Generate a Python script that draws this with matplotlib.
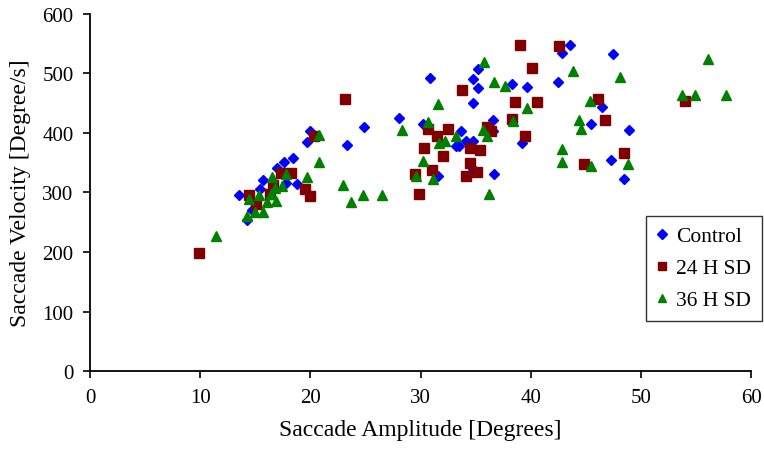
import matplotlib
matplotlib.use("Agg")
import matplotlib.pyplot as plt

# Control
ctrl_x = [13.5, 15.7, 17.8, 18.8, 15.4, 14.7, 14.2, 18.4, 19.7, 20.0, 23.3, 24.9, 28.0,
          30.2, 30.9, 33.2, 31.6, 35.2, 34.8, 38.3, 39.7, 35.2, 42.5, 43.6, 42.8, 34.8,
          36.6, 36.6, 33.7, 34.1, 34.8, 33.5, 39.2, 34.8, 36.7, 47.5, 46.5, 45.5, 48.9,
          47.3, 48.5, 17.6, 17.0]
ctrl_y = [295, 320, 315, 314, 305, 271, 253, 357, 384, 403, 379, 409, 424,
          414, 492, 377, 327, 507, 491, 481, 476, 475, 485, 548, 534, 450,
          422, 403, 403, 387, 386, 377, 383, 340, 330, 532, 443, 415, 405,
          354, 323, 351, 341]

# 24 H SD
sd24_x = [9.9, 14.4, 17.3, 18.2, 19.5, 20.0, 16.3, 15.1, 16.6, 20.3, 23.1, 30.7, 32.5,
          31.5, 30.3, 32.0, 31.0, 29.5, 29.9, 39.0, 42.6, 40.1, 33.8, 38.6, 40.6, 38.3,
          36.0, 36.4, 39.5, 34.5, 35.4, 34.5, 35.1, 34.1, 44.8, 54.0, 46.1, 46.7, 48.5]
sd24_y = [198, 295, 332, 332, 306, 294, 298, 281, 313, 395, 457, 407, 407,
          395, 374, 361, 337, 330, 297, 548, 546, 508, 471, 451, 451, 423,
          410, 403, 394, 375, 371, 350, 334, 328, 347, 454, 457, 421, 366]

# 36 H SD
sd36_x = [11.4, 14.4, 15.3, 16.4, 16.1, 16.9, 17.4, 16.8, 16.5, 17.8, 19.7, 15.0, 15.7,
          14.2, 20.8, 20.8, 31.6, 30.7, 28.3, 32.2, 31.7, 33.2, 30.2, 29.6, 31.1, 23.0,
          24.8, 26.5, 23.7, 35.8, 36.7, 37.7, 39.7, 38.4, 35.7, 36.0, 36.2, 42.8, 42.8,
          44.4, 44.6, 43.8, 56.1, 48.1, 53.7, 54.9, 57.7, 45.4, 45.5, 48.8]
sd36_y = [227, 289, 295, 298, 283, 285, 310, 308, 326, 330, 325, 267, 267,
          260, 397, 351, 449, 418, 405, 386, 383, 394, 352, 328, 322, 313,
          295, 295, 283, 519, 485, 478, 442, 420, 405, 395, 298, 372, 351,
          422, 407, 503, 523, 494, 464, 464, 464, 454, 344, 347]

plt.rcParams['font.family'] = ['Liberation Serif', 'DejaVu Serif']

fig = plt.figure(figsize=(7.64, 4.56), dpi=100)
ax = fig.add_axes([0.118, 0.184, 0.865, 0.784])

ax.plot(ctrl_x, ctrl_y, linestyle='none', marker='D', ms=5.5, color='#0000ff', label='Control')
ax.plot(sd24_x, sd24_y, linestyle='none', marker='s', ms=6.5, color='#800000', label='24 H SD')
ax.plot(sd36_x, sd36_y, linestyle='none', marker='^', ms=7.5, color='#008000', label='36 H SD')

ax.set_xlim(0, 60)
ax.set_ylim(0, 600)
ax.set_xticks(range(0, 61, 10))
ax.set_yticks(range(0, 601, 100))
ax.spines['top'].set_visible(False)
ax.spines['right'].set_visible(False)
ax.spines['left'].set_linewidth(1.3)
ax.spines['bottom'].set_linewidth(1.3)
ax.tick_params(axis='both', direction='out', length=5, width=1.2, labelsize=15, pad=7)
ax.set_xlabel("Saccade Amplitude [Degrees]", fontsize=17, labelpad=9)
ax.set_ylabel("Saccade Velocity [Degree/s]", fontsize=17, labelpad=8)

leg = ax.legend(loc='lower right', bbox_to_anchor=(0.997, 0.294), bbox_transform=fig.transFigure,
                fontsize=15.5, frameon=True, fancybox=False, handlelength=0.5, handletextpad=0.4,
                borderpad=0.5, labelspacing=0.55, markerscale=0.85, borderaxespad=0)
leg.get_frame().set_edgecolor('black')
leg.get_frame().set_linewidth(1.0)

fig.savefig("out.png", dpi=100)
